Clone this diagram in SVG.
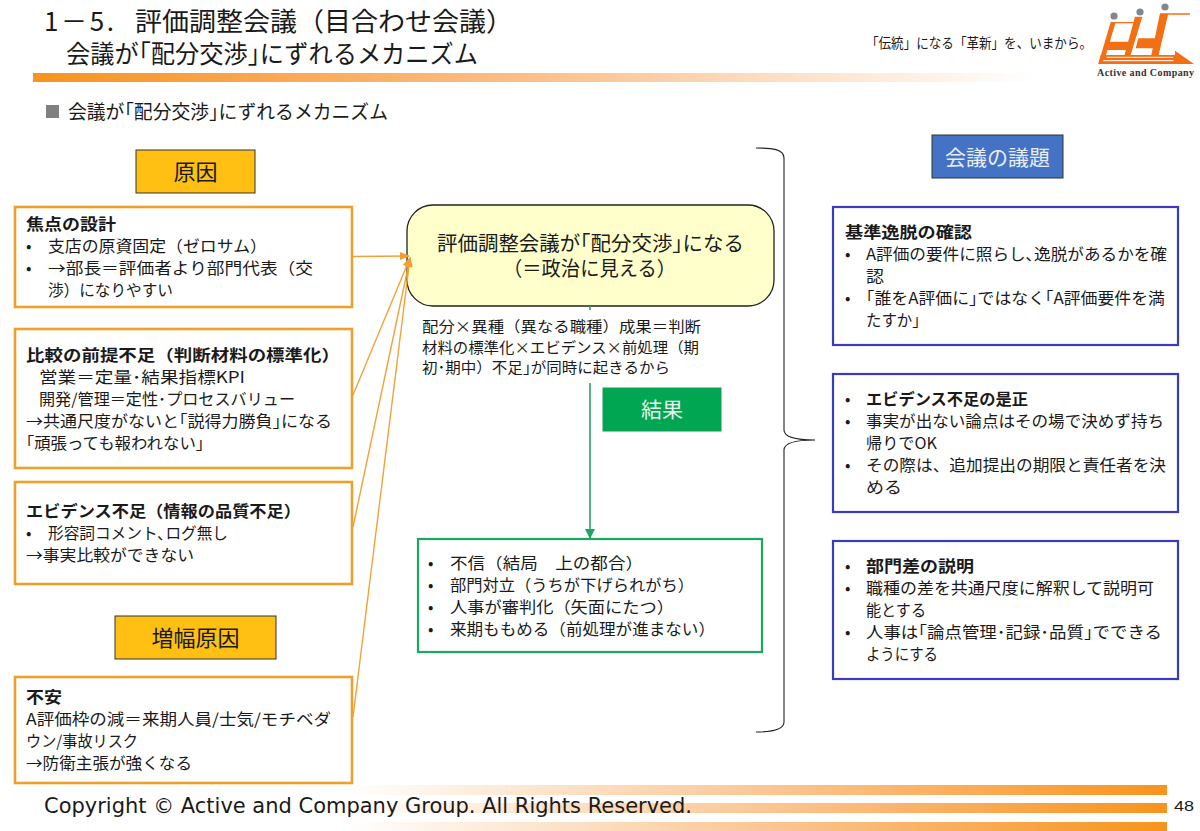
<svg xmlns="http://www.w3.org/2000/svg" width="1200" height="831" viewBox="0 0 1200 831">
<style>
text{font-family:"Noto Sans CJK JP","Liberation Sans",sans-serif;fill:#1a1a1a}
.t{font-size:16px}
.b{font-size:16px;font-weight:700}
.or{fill:#fff;stroke:#eea02c;stroke-width:2.6}
.bl{fill:#fff;stroke:#3a3ac0;stroke-width:2.2}
.hd{fill:#ffc013;stroke:#333;stroke-width:1}
.arr{stroke:#f3a238;stroke-width:1.4;fill:none}
.c{text-anchor:middle}
.lg{fill:#f36f14}
</style>
<defs>
<linearGradient id="g1" x1="0" x2="1" y1="0" y2="0"><stop offset="0" stop-color="#f7931e"/><stop offset="0.5" stop-color="#fbbf8a"/><stop offset="1" stop-color="#ffffff"/></linearGradient>
<linearGradient id="g2" x1="0" x2="1" y1="0" y2="0"><stop offset="0" stop-color="#ffffff"/><stop offset="0.5" stop-color="#fcc795"/><stop offset="1" stop-color="#f7931e"/></linearGradient>
<marker id="ao" markerWidth="10" markerHeight="8" refX="9" refY="4" orient="auto" markerUnits="userSpaceOnUse"><path d="M0 0L10 4L0 8Z" fill="#f3a030"/></marker>
<marker id="ag" markerWidth="10" markerHeight="10" refX="9" refY="5" orient="auto" markerUnits="userSpaceOnUse"><path d="M0 0L10 5L0 10Z" fill="#1aa860"/></marker>
</defs>
<rect width="1200" height="831" fill="#fff"/>
<g id="header">
<text x="44" y="31" font-size="26" textLength="70">1－5.</text>
<text x="135" y="31" font-size="26" textLength="378" lengthAdjust="spacingAndGlyphs">評価調整会議（目合わせ会議）</text>
<text x="66" y="63" font-size="25" textLength="412" lengthAdjust="spacingAndGlyphs">会議が｢配分交渉｣にずれるメカニズム</text>
<rect x="33" y="73" width="1000" height="9" fill="url(#g1)"/>
<text x="866" y="48" font-size="14" textLength="226" lengthAdjust="spacingAndGlyphs">「伝統」になる「革新」を、いまから。</text>
<rect x="46" y="105" width="13" height="13" fill="#808080"/>
<text x="68" y="119" font-size="19" textLength="320" lengthAdjust="spacingAndGlyphs">会議が｢配分交渉｣にずれるメカニズム</text>
</g>
<g id="logo">
<circle cx="1114" cy="16" r="3.600" fill="#7f8890"/><circle cx="1140" cy="12" r="3.600" fill="#7f8890"/><circle cx="1165" cy="7" r="3.600" fill="#7f8890"/>
<g transform="translate(1090 0) scale(0.3333)">
<path class="lg" d="M62 66H140V70H76L40 192H25Z"/>
<path class="lg" d="M50 125H125L118 150H42Z"/>
<path class="lg" d="M135 50H157L118 178H100Z"/>
<path class="lg" d="M145 115H215L208 145H137Z"/>
<path class="lg" d="M210 40H300V44H234L206 165H255V152L312 192H25L32 165H184Z"/>
<path d="M50 172H250M40 182H250" stroke="#fff" stroke-width="3" fill="none"/>
</g>
<text x="1097" y="76" font-size="10" font-weight="700" style="font-family:'Liberation Serif',serif;fill:#333" textLength="97">Active and Company</text>
</g>
<g id="cause-label"><rect class="hd" x="136" y="150" width="119" height="43"/><text class="c" x="195.500" y="180" font-size="22">原因</text></g>
<g id="amp-label"><rect class="hd" x="115" y="616" width="161" height="43"/><text class="c" x="195.500" y="646" font-size="22">増幅原因</text></g>
<g id="cause1"><rect class="or" x="15" y="207" width="337" height="100"/>
<text class="b" x="26" y="230" textLength="90" lengthAdjust="spacingAndGlyphs">焦点の設計</text>
<text class="t" x="26" y="252">•</text><text class="t" x="48" y="252" textLength="219" lengthAdjust="spacingAndGlyphs">支店の原資固定（ゼロサム）</text>
<text class="t" x="26" y="274">•</text><text class="t" x="48" y="274" textLength="265" lengthAdjust="spacingAndGlyphs">→部長＝評価者より部門代表（交</text>
<text class="t" x="48" y="296" textLength="125" lengthAdjust="spacingAndGlyphs">渉）になりやすい</text></g>
<g id="cause2"><rect class="or" x="15" y="329" width="337" height="139"/>
<text class="b" x="26" y="361" textLength="314" lengthAdjust="spacingAndGlyphs">比較の前提不足（判断材料の標準化）</text>
<text class="t" x="39" y="383" textLength="206" lengthAdjust="spacingAndGlyphs">営業＝定量･結果指標KPI</text>
<text class="t" x="39" y="405" textLength="256" lengthAdjust="spacingAndGlyphs">開発/管理＝定性･プロセスバリュー</text>
<text class="t" x="26" y="427" textLength="306" lengthAdjust="spacingAndGlyphs">→共通尺度がないと｢説得力勝負｣になる</text>
<text class="t" x="26" y="449" textLength="178" lengthAdjust="spacingAndGlyphs">｢頑張っても報われない｣</text></g>
<g id="cause3"><rect class="or" x="15" y="482" width="337" height="102"/>
<text class="b" x="26" y="517" textLength="275" lengthAdjust="spacingAndGlyphs">エビデンス不足（情報の品質不足）</text>
<text class="t" x="26" y="539">•</text><text class="t" x="48" y="539" textLength="180" lengthAdjust="spacingAndGlyphs">形容詞コメント､ログ無し</text>
<text class="t" x="26" y="561" textLength="168" lengthAdjust="spacingAndGlyphs">→事実比較ができない</text></g>
<g id="amp1"><rect class="or" x="15" y="677" width="337" height="106"/>
<text class="b" x="26" y="703" textLength="36" lengthAdjust="spacingAndGlyphs">不安</text>
<text class="t" x="26" y="725" textLength="305" lengthAdjust="spacingAndGlyphs">A評価枠の減＝来期人員/士気/モチベダ</text>
<text class="t" x="26" y="747" textLength="112" lengthAdjust="spacingAndGlyphs">ウン/事故リスク</text>
<text class="t" x="26" y="769" textLength="166" lengthAdjust="spacingAndGlyphs">→防衛主張が強くなる</text></g>
<g id="core"><rect x="407" y="205" width="367" height="101" rx="26" fill="#ffffcc" stroke="#222" stroke-width="1.3"/>
<text x="437" y="251" font-size="20" textLength="307" lengthAdjust="spacingAndGlyphs">評価調整会議が｢配分交渉｣になる</text>
<text x="503" y="276" font-size="20" textLength="173" lengthAdjust="spacingAndGlyphs">（＝政治に見える）</text></g>
<g id="reason">
<text x="422" y="332" font-size="15" textLength="279" lengthAdjust="spacingAndGlyphs">配分×異種（異なる職種）成果＝判断</text>
<text x="422" y="353" font-size="15" textLength="277" lengthAdjust="spacingAndGlyphs">材料の標準化×エビデンス×前処理（期</text>
<text x="422" y="373" font-size="15" textLength="248" lengthAdjust="spacingAndGlyphs">初･期中）不足｣が同時に起きるから</text></g>
<g id="result-label"><rect x="603" y="388" width="118" height="43" fill="#00a651" stroke="#1b9a5a"/><text class="c" x="662" y="417" font-size="21" style="fill:#e8f6ee">結果</text></g>
<g id="result"><rect x="418" y="539" width="344" height="113" fill="#fff" stroke="#18a860" stroke-width="2.2"/>
<text class="t" x="428" y="569">•</text><text class="t" x="450" y="569" textLength="193" lengthAdjust="spacingAndGlyphs">不信（結局　上の都合）</text>
<text class="t" x="428" y="591">•</text><text class="t" x="450" y="591" textLength="244" lengthAdjust="spacingAndGlyphs">部門対立（うちが下げられがち）</text>
<text class="t" x="428" y="613">•</text><text class="t" x="450" y="613" textLength="224" lengthAdjust="spacingAndGlyphs">人事が審判化（矢面にたつ）</text>
<text class="t" x="428" y="635">•</text><text class="t" x="450" y="635" textLength="265" lengthAdjust="spacingAndGlyphs">来期ももめる（前処理が進まない）</text></g>
<g id="agenda-label"><rect x="932" y="135" width="131" height="43" fill="#4472c4" stroke="#333"/><text class="c" x="997.500" y="165" font-size="21" style="fill:#e8eef8">会議の議題</text></g>
<g id="agenda1"><rect class="bl" x="833" y="207" width="345" height="138"/>
<text class="b" x="845" y="238" textLength="127" lengthAdjust="spacingAndGlyphs">基準逸脱の確認</text>
<text class="t" x="845" y="260">•</text><text class="t" x="866" y="260" textLength="301" lengthAdjust="spacingAndGlyphs">A評価の要件に照らし､逸脱があるかを確</text>
<text class="t" x="866" y="282" textLength="18" lengthAdjust="spacingAndGlyphs">認</text>
<text class="t" x="845" y="304">•</text><text class="t" x="866" y="304" textLength="299" lengthAdjust="spacingAndGlyphs">｢誰をA評価に｣ではなく｢A評価要件を満</text>
<text class="t" x="866" y="326" textLength="54" lengthAdjust="spacingAndGlyphs">たすか｣</text></g>
<g id="agenda2"><rect class="bl" x="833" y="374" width="345" height="138"/>
<text class="t" x="845" y="405">•</text><text class="b" x="866" y="405" textLength="162" lengthAdjust="spacingAndGlyphs">エビデンス不足の是正</text>
<text class="t" x="845" y="427">•</text><text class="t" x="866" y="427" textLength="298" lengthAdjust="spacingAndGlyphs">事実が出ない論点はその場で決めず持ち</text>
<text class="t" x="866" y="449" textLength="71" lengthAdjust="spacingAndGlyphs">帰りでOK</text>
<text class="t" x="845" y="471">•</text><text class="t" x="866" y="471" textLength="300" lengthAdjust="spacingAndGlyphs">その際は、追加提出の期限と責任者を決</text>
<text class="t" x="866" y="493" textLength="36" lengthAdjust="spacingAndGlyphs">める</text></g>
<g id="agenda3"><rect class="bl" x="833" y="541" width="345" height="138"/>
<text class="t" x="845" y="572">•</text><text class="b" x="866" y="572" textLength="108" lengthAdjust="spacingAndGlyphs">部門差の説明</text>
<text class="t" x="845" y="594">•</text><text class="t" x="866" y="594" textLength="288" lengthAdjust="spacingAndGlyphs">職種の差を共通尺度に解釈して説明可</text>
<text class="t" x="866" y="616" textLength="60" lengthAdjust="spacingAndGlyphs">能とする</text>
<text class="t" x="845" y="638">•</text><text class="t" x="866" y="638" textLength="296" lengthAdjust="spacingAndGlyphs">人事は｢論点管理･記録･品質｣でできる</text>
<text class="t" x="866" y="660" textLength="72" lengthAdjust="spacingAndGlyphs">ようにする</text></g>
<g id="footer">
<rect x="345" y="785" width="822" height="10" fill="url(#g2)"/>
<rect x="345" y="803" width="822" height="10" fill="url(#g2)"/>
<rect x="345" y="822" width="822" height="9" fill="url(#g2)"/>
<text x="44" y="813" font-size="22" style="font-family:'DejaVu Sans',sans-serif" textLength="648" lengthAdjust="spacingAndGlyphs">Copyright © Active and Company Group. All Rights Reserved.</text>
<text x="1174" y="811" font-size="14" style="font-family:'Liberation Sans',sans-serif" textLength="20" lengthAdjust="spacingAndGlyphs">48</text>
</g>
<g id="connectors">
<path class="arr" d="M353 256.500L409 256" marker-end="url(#ao)"/>
<path class="arr" d="M353 395L410 258" marker-end="url(#ao)"/>
<path class="arr" d="M353 527L410 258" marker-end="url(#ao)"/>
<path class="arr" d="M353 717L410 258" marker-end="url(#ao)"/>
<path d="M590 306V310" stroke="#2da26a" stroke-width="1.6" fill="none"/>
<path d="M590 383V538" stroke="#2da26a" stroke-width="1.6" fill="none" marker-end="url(#ag)"/>
<path d="M756 148C772 148 784 149 784 158V430C784 437 796 440 815 440C796 440 784 443 784 450V722C784 730 772 732 756 732" fill="none" stroke="#222" stroke-width="1.1"/>
</g>
</svg>
